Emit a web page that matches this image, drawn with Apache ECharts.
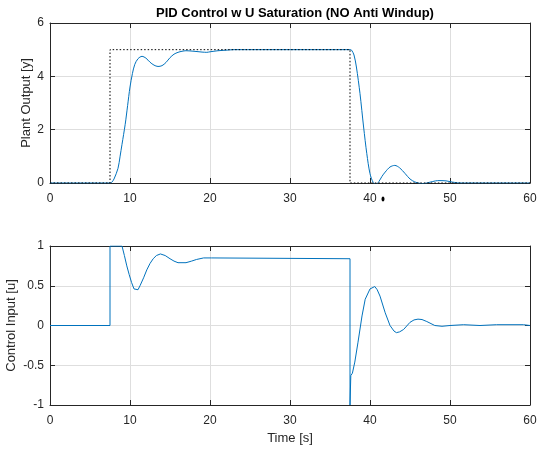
<!DOCTYPE html>
<html>
<head>
<meta charset="utf-8">
<script src="https://cdn.jsdelivr.net/npm/echarts@6/dist/echarts.min.js"></script>
<style>html,body{margin:0;padding:0;background:#fff}#c{width:548px;height:450px}</style>
</head>
<body>
<div id="c"></div>
<script>
// Reference (setpoint) signal
var refT = [0, 7.5, 7.5, 37.5, 37.5, 60];
var refV = [0, 0, 5, 5, 0, 0];

// Plant output y
var tY = [0, 7.5, 7.7, 8, 8.5, 8.75, 9, 9.4, 9.7, 10, 10.3, 10.6, 11, 11.5, 12, 12.5, 13, 13.5, 14, 14.5, 15, 15.5, 16, 16.5, 17, 18, 19, 19.6, 20, 21, 22, 23,
  37.5, 37.7, 38, 38.3, 38.75, 39.2, 39.6, 40, 40.4, 40.75, 41.1, 41.5, 41.9, 42.5, 43.1, 43.7, 44.4, 45, 45.6, 46.2, 46.7, 47.5, 48.2, 48.75, 49.5, 50, 50.6, 51.25, 60];
var yOut = [0, 0, 0.02, 0.15, 0.55, 0.98, 1.45, 2.2, 2.9, 3.6, 4.1, 4.45, 4.66, 4.75, 4.68, 4.53, 4.42, 4.37, 4.4, 4.52, 4.7, 4.83, 4.9, 4.94, 4.96, 4.94, 4.91, 4.9, 4.92, 4.96, 4.98, 5,
  5, 4.98, 4.8, 4.35, 3.35, 2.1, 1.1, 0.35, 0.02, -0.05, 0.05, 0.25, 0.41, 0.6, 0.66, 0.57, 0.35, 0.15, 0.04, -0.01, -0.02, 0.03, 0.08, 0.09, 0.08, 0.05, 0.02, 0, 0];

// Control input u
var tU = [0, 7.5, 7.5, 9, 9.3, 9.6, 9.9, 10.2, 10.5, 10.7, 11, 11.25, 11.7, 12.1, 12.5, 12.9, 13.3, 13.8, 14.4, 15, 15.5, 16, 17, 17.7, 18.3, 19.2, 20.2, 20.3,
  37.5, 37.5, 37.6, 37.6, 37.8, 38.1, 38.5, 39, 39.4, 40, 40.6, 40.9, 41.25, 41.9, 42.5, 43, 43.3, 43.7, 44.2, 45, 45.5, 46, 46.5, 47.1, 48.1, 49, 50, 51.7, 53.75, 55.8, 59.2, 60];
var uIn = [0, 0, 1, 1, 0.88, 0.75, 0.64, 0.54, 0.46, 0.44, 0.45, 0.5, 0.6, 0.7, 0.78, 0.84, 0.88, 0.9, 0.88, 0.84, 0.81, 0.79, 0.79, 0.81, 0.83, 0.85, 0.85, 0.84,
  0.84, -1, -1, -0.63, -0.6, -0.46, -0.21, 0.12, 0.33, 0.46, 0.49, 0.45, 0.37, 0.16, 0, -0.07, -0.09, -0.08, -0.05, 0.04, 0.07, 0.08, 0.075, 0.05, 0, -0.01, 0, 0.01, 0, 0.01, 0.01, 0];

var xTicks = [0, 10, 20, 30, 40, 50, 60];
var yTopTicks = [0, 2, 4, 6];
var yBotTicks = [-1, -0.5, 0, 0.5, 1];

function pairs(a, b) { return a.map(function (v, i) { return [v, b[i]]; }); }

var FONT = 'Liberation Sans, Arial, Helvetica, sans-serif';
var TXT = '#262626';

function mkX(grid, pos, showLabel, name) {
  return {
    type: 'value', gridIndex: grid, position: pos, min: 0, max: 60, interval: 10,
    axisLine: { show: true, onZero: false, lineStyle: { color: '#262626', width: 1 } },
    axisTick: { show: true, inside: true, length: 5, lineStyle: { color: '#262626' } },
    axisLabel: { show: showLabel, color: TXT, fontSize: 12, fontFamily: FONT, margin: 10 },
    splitLine: { show: showLabel, lineStyle: { color: '#dedede', width: 1 } },
    name: name || '', nameLocation: 'middle', nameGap: 27, nameMoveOverlap: false,
    nameTextStyle: { color: TXT, fontSize: 13, fontFamily: FONT }
  };
}
function mkY(grid, pos, min, max, interval, showLabel, name, gap) {
  return {
    type: 'value', gridIndex: grid, position: pos, min: min, max: max, interval: interval,
    axisLine: { show: true, onZero: false, lineStyle: { color: '#262626', width: 1 } },
    axisTick: { show: true, inside: true, length: 5, lineStyle: { color: '#262626' } },
    axisLabel: { show: showLabel, color: TXT, fontSize: 12, fontFamily: FONT, margin: 6 },
    splitLine: { show: showLabel, lineStyle: { color: '#dedede', width: 1 } },
    name: name || '', nameLocation: 'middle', nameGap: gap || 20, nameMoveOverlap: false,
    nameTextStyle: { color: TXT, fontSize: 13, fontFamily: FONT }
  };
}

var chart = echarts.init(document.getElementById('c'), null, { renderer: 'canvas' });
chart.setOption({
  animation: false,
  backgroundColor: '#ffffff',
  title: {
    text: 'PID Control w U Saturation (NO Anti Windup)',
    left: 290, top: 2, textAlign: 'center',
    textStyle: { fontSize: 13, fontWeight: 'bold', color: '#000', fontFamily: FONT }
  },
  grid: [
    { left: 50, top: 23, width: 480, height: 160, containLabel: false, outerBoundsMode: 'none' },
    { left: 50, top: 246, width: 480, height: 159, containLabel: false, outerBoundsMode: 'none' }
  ],
  xAxis: [
    mkX(0, 'bottom', true),
    mkX(0, 'top', false),
    mkX(1, 'bottom', true, 'Time [s]'),
    mkX(1, 'top', false)
  ],
  yAxis: [
    mkY(0, 'left', 0, 6, 2, true, 'Plant Output [y]', 17),
    mkY(0, 'right', 0, 6, 2, false),
    mkY(1, 'left', -1, 1, 0.5, true, 'Control Input [u]', 32),
    mkY(1, 'right', -1, 1, 0.5, false)
  ],
  series: [
    { type: 'line', xAxisIndex: 0, yAxisIndex: 0, data: pairs(tY, yOut), showSymbol: false, smooth: 0.3,
      lineStyle: { color: '#0072BD', width: 1 }, z: 3 },
    { type: 'line', xAxisIndex: 0, yAxisIndex: 0, data: pairs(refT, refV), showSymbol: false,
      lineStyle: { color: '#000', width: 1, type: [1.5, 2] }, z: 4 },
    { type: 'line', xAxisIndex: 2, yAxisIndex: 2, data: pairs(tU, uIn), showSymbol: false,
      lineStyle: { color: '#0072BD', width: 1 }, z: 3 }
  ],
  graphic: [
    { type: 'ellipse', shape: { cx: 383, cy: 199, rx: 1.5, ry: 2.5 }, style: { fill: '#000' } }
  ]
});
</script>
</body>
</html>
